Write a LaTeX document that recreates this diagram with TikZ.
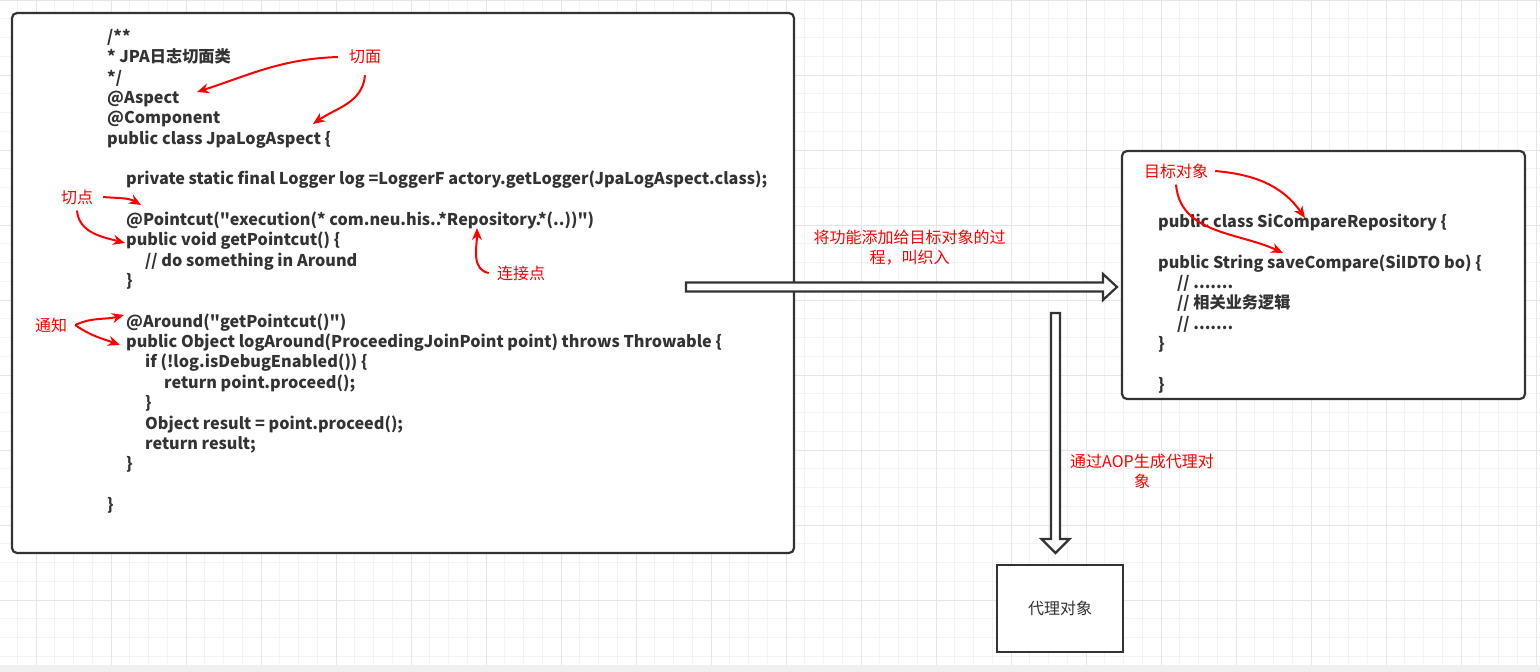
\documentclass[tikz,border=0pt]{standalone}
\usepackage{fontspec}
\setmainfont{Noto Sans CJK SC}[Ligatures=TeXOff]
\usetikzlibrary{arrows.meta}
\definecolor{Tinta}{HTML}{333333}
\definecolor{Oznaka}{HTML}{FF0000}
\definecolor{Mreza}{HTML}{F3F3F3}
\definecolor{MrezaJaka}{HTML}{E6E6E6}
\tikzset{
  frame/.style    = {rectangle, draw=Tinta, line width=2.2pt, fill=white},
  code/.style     = {anchor=base west, inner sep=0pt, text=Tinta,
                     font=\fontsize{16.2}{19}\selectfont\bfseries},
  note/.style     = {text=Oznaka, inner sep=6pt, font=\fontsize{16}{19.5}\selectfont},
  ptr/.style      = {draw=Oznaka, line width=2pt, -{Stealth[length=12pt, width=10pt]}},
  hollow/.style   = {draw=Tinta, line width=2.2pt, fill=white, line join=miter},
  gridminor/.style= {draw=Mreza, line width=1pt},
  gridmajor/.style= {draw=MrezaJaka, line width=1pt},
}

\begin{document}
\begin{tikzpicture}[x=1pt, y=-1pt]
  \useasboundingbox (0,0) rectangle (1540,672);
  % --- background grid ---
  \fill[white] (0,0) rectangle (1540,672);
  \foreach \gx in {17.25,36,...,1540} \draw[gridminor] (\gx,0) -- (\gx,665);
  \foreach \gy in {0,18.75,...,665} \draw[gridminor] (0,\gy) -- (1540,\gy);
  \foreach \gx in {36,111,...,1540} \draw[gridmajor] (\gx,0) -- (\gx,665);
  \foreach \gy in {0,75,...,665} \draw[gridmajor] (0,\gy) -- (1540,\gy);
  \fill[gray!12] (0,665) rectangle (1540,672);

  % --- boxes ---
  \node[frame, rounded corners=5pt, minimum width=782pt, minimum height=540pt] (aspect) at (403,283) {};
  \node[frame, rounded corners=5pt, minimum width=403pt, minimum height=248pt] (target) at (1323.5,275) {};
  \node[frame, minimum width=126pt, minimum height=87pt, text=Tinta,
        font=\fontsize{16}{19}\selectfont] (proxy) at (1060,608.5) {代理对象};

  % --- aspect class ---
  \node[code] (a1)  at (107,42.3)  {/**};
  \node[code] (a2)  at (107,62.7)  {* JPA日志切面类};
  \node[code] (a3)  at (107,83.0)  {*/};
  \node[code] (a4)  at (107,103.4) {@Aspect};
  \node[code] (a5)  at (107,123.7) {@Component};
  \node[code] (a6)  at (107,144.1) {public class JpaLogAspect \{};
  \node[code] (a7)  at (126,184.8) {private static final Logger log =LoggerF actory.getLogger(JpaLogAspect.class);};
  \node[code] (a8)  at (126,225.5) {@Pointcut("execution(* com.neu.his..*Repository.*(..))")};
  \node[code] (a9)  at (126,245.8) {public void getPointcut() \{};
  \node[code] (a10) at (145,266.2) {// do something in Around};
  \node[code] (a11) at (126,286.5) {\}};
  \node[code] (a12) at (126,327.2) {@Around("getPointcut()")};
  \node[code] (a13) at (126,347.6) {public Object logAround(ProceedingJoinPoint point) throws Throwable \{};
  \node[code] (a14) at (145,367.9) {if (!log.isDebugEnabled()) \{};
  \node[code] (a15) at (164,388.3) {return point.proceed();};
  \node[code] (a16) at (145,408.6) {\}};
  \node[code] (a17) at (145,429.0) {Object result = point.proceed();};
  \node[code] (a18) at (145,449.3) {return result;};
  \node[code] (a19) at (126,469.7) {\}};
  \node[code] (a20) at (107,510.4) {\}};

  % --- target class ---
  \node[code] (t1) at (1158,227.3) {public class SiCompareRepository \{};
  \node[code] (t2) at (1158,268.0) {public String saveCompare(SiIDTO bo) \{};
  \node[code] (t3) at (1177,288.3) {// .......};
  \node[code] (t4) at (1177,308.6) {// 相关业务逻辑};
  \node[code] (t5) at (1177,329.0) {// .......};
  \node[code] (t6) at (1158,349.3) {\}};
  \node[code] (t7) at (1158,390.0) {\}};

  % --- block arrows ---
  \coordinate (weavefrom) at (686,287);
  \coordinate (aopfrom)   at (1055.5,313);
  \draw[hollow] (weavefrom) ++(0,-4.5) -- ++(417,0) -- ++(0,-8.5) -- ++(14,13)
                -- ++(-14,13) -- ++(0,-8.5) -- ++(-417,0) -- cycle;
  \draw[hollow] (aopfrom) ++(-4.5,0) -- ++(0,226) -- ++(-9.5,0) -- ++(14,14)
                -- ++(14,-14) -- ++(-9.5,0) -- ++(0,-226) -- cycle;

  % --- red notes ---
  \node[note] (face)    at (365,57)   {切面};
  \node[note] (cut)     at (77,197)   {切点};
  \node[note] (join)    at (521,273)  {连接点};
  \node[note] (advice)  at (51,325)   {通知};
  \node[note] (tgtnote) at (1176,171) {目标对象};
  \node[note, align=center] (weave) at (909.5,247.5) {将功能添加给目标对象的过\\程，叫织入};
  \node[note, align=center] (aop)   at (1142,471.5) {通过AOP生成代理对\\象};

  \coordinate (onaspect) at (197,92);
  \coordinate (oncomp)   at (313,124);
  \coordinate (onpc)     at (141,205);
  \coordinate (ongpc)    at (125,243);
  \coordinate (onrepo)   at (477,228);
  \coordinate (onaround) at (124,315);
  \coordinate (onlog)    at (120,345);
  \coordinate (onclass)  at (1305,218);
  \coordinate (onsave)   at (1283,253);

  \draw[ptr] ([xshift=-5pt]face.west) to[out=182, in=18] (onaspect);
  \draw[ptr] ([yshift=-5pt]face.south) to[out=265, in=35] (oncomp);
  \draw[ptr] ([xshift=4pt]cut.east) to[out=-5, in=150] (onpc);
  \draw[ptr] (cut.south) to[out=275, in=165] (ongpc);
  \draw[ptr] ([xshift=-2pt]join.west) to[out=170, in=270] (onrepo);
  \draw[ptr] ([xshift=2pt]advice.east) to[out=25, in=195] (onaround);
  \draw[ptr] ([xshift=2pt]advice.east) to[out=-35, in=160] (onlog);
  \draw[ptr] ([xshift=1pt]tgtnote.east) to[out=-5, in=125] (onclass);
  \draw[ptr] (tgtnote.south) to[out=275, in=155] (onsave);
\end{tikzpicture}
\end{document}
